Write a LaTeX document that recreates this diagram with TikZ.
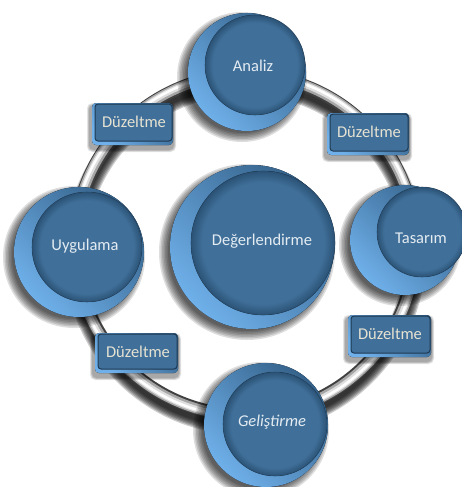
\documentclass[tikz,border=0pt]{standalone}
\usepackage{fontspec}
\setmainfont{Carlito}
\definecolor{facecol}{HTML}{40709A}
\definecolor{facedark}{HTML}{2B5275}
\definecolor{rimlight}{HTML}{6FB0EA}
\definecolor{rimdark}{HTML}{35628A}
\definecolor{txtcol}{HTML}{E4ECF2}
\definecolor{boxtxt}{HTML}{E6E2D2}
\pgfdeclareradialshading{facesh}{\pgfpoint{0bp}{0bp}}{color(0bp)=(facecol); color(21bp)=(facecol); color(25bp)=(facedark); color(50bp)=(facedark)}
\tikzset{
  btntext/.style={text=txtcol, font=\fontsize{16.5}{19}\selectfont, inner sep=0pt},
  boxtext/.style={text=boxtxt, font=\fontsize{16.5}{19}\selectfont, inner sep=0pt},
  rim/.style={shading=axis, top color=rimdark, bottom color=rimlight, shading angle=-45},
  face/.style={shading=facesh},
}
% button: outer cx, cy, R, face cx, cy, r
\newcommand{\mybutton}[6]{%
  \foreach \k in {0,...,6}{\fill[black, opacity=0.13] (#1-5,#2+5) circle ({#3+6-1.5*\k});}
  \fill[rim] (#1,#2) circle (#3);
  \fill[face] (#4,#5) circle (#6);
  \draw[facedark!80!black, line width=0.6pt, opacity=0.6] (#4,#5) circle (#6);
}
\newcommand{\mybox}[4]{% x1 y1 x2 y2 (outer)
  \foreach \k in {0,...,4}{\fill[black, opacity=0.08, rounded corners=5pt] (#1-3-\k*0.5,#2+2-\k*0.5) rectangle (#3+1+\k*0.5,#4+5+\k*0.5);}
  \fill[rim, rounded corners=4pt] (#1,#2) rectangle (#3,#4);
  \fill[facecol, draw=facedark!70!black, line width=1pt, rounded corners=3pt] (#1+3,#2+1) rectangle (#3-1,#4-4);
}
\begin{document}
\begin{tikzpicture}[x=1pt,y=-1pt]
\useasboundingbox (0,0) rectangle (461,487);
\fill[white] (0,0) rectangle (461,487);
% ring shadow
\foreach \k in {0,...,6}{\draw[black, opacity=0.2, line width={22-2.5*\k}] (245,254) circle (170);}
% ring tube
\draw[gray!50!black, line width=13pt] (245,245) circle (170);
\draw[gray!70, line width=10pt] (245,245) circle (170.5);
\draw[gray!25, line width=6pt] (245,245) circle (171);
\draw[white, line width=2.5pt] (245,245) circle (171.5);
% boxes
\mybox{92}{103}{173}{145}
\mybox{327}{113}{409}{155}
\mybox{348}{315}{431}{357}
\mybox{95}{333}{178}{373}
\node[boxtext] (d1) at (134,122) {Düzeltme};
\node[boxtext] (d2) at (369,132) {Düzeltme};
\node[boxtext] (d3) at (390,334) {Düzeltme};
\node[boxtext] (d4) at (138,352) {Düzeltme};
% buttons
\mybutton{247}{72}{59}{255}{65}{50}
\mybutton{252}{247}{82}{263}{243}{72}
\mybutton{405}{240}{55}{422}{232}{45}
\mybutton{79}{252}{65}{87}{247}{55}
\mybutton{266}{425}{62}{275}{424}{52}
\node[btntext] (an) at (253,66) {Analiz};
\node[btntext] (de) at (262,241) {Değerlendirme};
\node[btntext] (ta) at (421,238) {Tasarım};
\node[btntext] (uy) at (85,246) {Uygulama};
\node[btntext, font=\fontsize{16.5}{19}\selectfont\itshape] (ge) at (272,422) {Geliştirme};
\end{tikzpicture}
\end{document}
